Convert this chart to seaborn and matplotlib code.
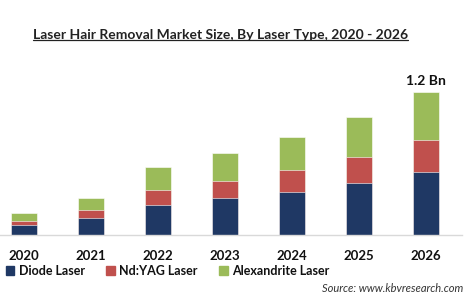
import matplotlib
matplotlib.use("Agg")
import matplotlib.pyplot as plt
import seaborn as sns
import pandas as pd
import numpy as np
from matplotlib.lines import Line2D

years = ["2020", "2021", "2022", "2023", "2024", "2025", "2026"]
diode = [0.084, 0.142, 0.251, 0.307, 0.363, 0.433, 0.525]
ndyag = [0.036, 0.067, 0.126, 0.145, 0.182, 0.224, 0.270]
alexandrite = [0.061, 0.103, 0.193, 0.232, 0.279, 0.335, 0.405]
series_names = ["Diode Laser", "Nd:YAG Laser", "Alexandrite Laser"]
colors = ["#1F3864", "#C0504D", "#9BBB59"]
title = "Laser Hair Removal Market Size, By Laser Type, 2020 - 2026"
top_label = "1.2 Bn"
source = "Source: www.kbvresearch.com"

sns.set_theme(style="white")
plt.rcParams["font.family"] = ["Lato", "DejaVu Sans"]

df = pd.DataFrame({"year": years, "diode": diode, "ndyag": ndyag, "alex": alexandrite})
df["c1"] = df["diode"]
df["c2"] = df["diode"] + df["ndyag"]
df["c3"] = df["c2"] + df["alex"]

fig = plt.figure(figsize=(4.75, 3.0), dpi=100)
ax = fig.add_axes([0.0, 0.217, 0.973, 0.583])

for col, c in zip(["c3", "c2", "c1"], colors[::-1]):
    sns.barplot(data=df, x="year", y=col, color=c, width=0.39, ax=ax,
                saturation=1, edgecolor="white", linewidth=0.4)

ax.set_xlim(-0.354, 6.54)
ax.set_ylim(0, 1.466)
ax.set_xlabel("")
ax.set_ylabel("")
ax.set_yticks([])
for s in ["top", "right", "left"]:
    ax.spines[s].set_visible(False)
ax.spines["bottom"].set_color("#D9D9D9")
ax.spines["bottom"].set_linewidth(1.0)
ax.tick_params(axis="x", length=0, pad=11, labelsize=9.5)
for lbl in ax.get_xticklabels():
    lbl.set_fontweight("bold")
    lbl.set_color("#111111")

ax.text(6, df["c3"].iloc[-1] + 0.04, top_label, ha="center", va="bottom",
        fontsize=10, fontweight="bold", color="#111111")

t = fig.text(0.5 * (34 + 407) / 475, 1 - 35 / 300, title, ha="center", va="center",
             fontsize=10, fontweight="bold", color="#222222")
fig.canvas.draw()
bb = t.get_window_extent(renderer=fig.canvas.get_renderer())
x0, x1 = bb.x0 / fig.bbox.width, bb.x1 / fig.bbox.width
yl = (bb.y0 + 1) / fig.bbox.height
fig.add_artist(Line2D([x0, x1], [yl, yl], color="#222222", lw=0.9, transform=fig.transFigure))

handles = [plt.Rectangle((0, 0), 1, 1, color=c) for c in colors]
leg = fig.legend(handles, series_names, loc="center left", bbox_to_anchor=(0.012, 1 - 271 / 300),
                 ncol=3, frameon=False, handlelength=0.7, handleheight=0.7,
                 handletextpad=0.35, columnspacing=1.7, borderaxespad=0, borderpad=0,
                 prop={"weight": "bold", "size": 9})
for txt in leg.get_texts():
    txt.set_color("#111111")

fig.text(463 / 475, 1 - 289 / 300, source, ha="right", va="center",
         fontsize=8, fontstyle="italic", color="#333333")

fig.savefig("out.png", dpi=100)
